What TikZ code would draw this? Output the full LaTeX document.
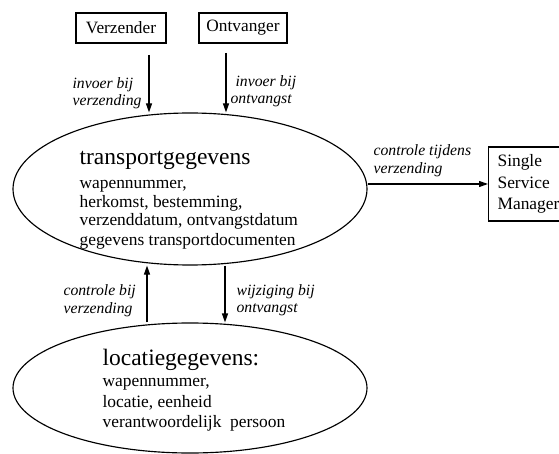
\documentclass[tikz,border=0pt]{standalone}
\usepackage{fontspec}
\setmainfont{Liberation Serif}
\usetikzlibrary{shapes.geometric,arrows.meta}
\begin{document}
\begin{tikzpicture}[x=1pt,y=-1pt,
  line width=1.15pt,
  actor/.style={draw,rectangle,minimum width=#1,minimum height=30pt,inner sep=0pt,
    font=\fontsize{17.3}{20}\selectfont},
  store/.style={draw,ellipse,inner sep=0pt},
  arr/.style={-{Triangle[length=9pt,width=6pt]}},
  txt/.style={anchor=base west,inner sep=0pt,font=\fontsize{17.4}{20}\selectfont},
  ttl/.style={anchor=base west,inner sep=0pt,font=\fontsize{23.5}{26}\selectfont},
  lbl/.style={anchor=base west,inner sep=0pt,font=\fontsize{15.7}{17}\selectfont\itshape}]
\useasboundingbox (0,0) rectangle (559,454);

% sources
\node[actor=90pt] (verz) at (121,28) {Verzender};
\node[actor=88pt] (ontv) at (243,28) {Ontvanger};

% data stores
\node[store,minimum width=354pt,minimum height=152pt] (tr) at (190,189) {};
\node[store,minimum width=354pt,minimum height=130pt] (loc) at (190,388) {};

% external system
\node[draw,rectangle,anchor=west,align=left,inner xsep=9pt,minimum height=74pt,
  font=\fontsize{17.4}{21.5}\selectfont] (ssm) at (488,184) {Single\\Service\\Manager};

% transport data contents
\node[ttl] (trT) at (79,165) {transportgegevens};
\node[txt] (tr1) at (79,189) {wapennummer,};
\node[txt] (tr2) at (79,208) {herkomst, bestemming,};
\node[txt] (tr3) at (79,226) {verzenddatum, ontvangstdatum};
\node[txt] (tr4) at (79,245) {gegevens transportdocumenten};

% location data contents
\node[ttl] (locT) at (102,365) {locatiegegevens:};
\node[txt] (loc1) at (102,386) {wapennummer,};
\node[txt] (loc2) at (102,407) {locatie, eenheid};
\node[txt] (loc3) at (102,427) {verantwoordelijk\ \ persoon};

% input flows
\coordinate (inV) at (149,55);
\coordinate (inO) at (226,53);
\draw[arr] (inV) -- (inV |- tr.north);
\draw[arr] (inO) -- (inO |- tr.north);
\node[lbl] (lV1) at (72,89) {invoer bij};
\node[lbl] (lV2) at (72,106) {verzending};
\node[lbl] (lO1) at (235,87) {invoer bij};
\node[lbl] (lO2) at (230,104) {ontvangst};

% check towards the Single Service Manager
\draw[arr] (tr.east |- ssm.west) -- (ssm.west);
\node[lbl] (lS1) at (373,156) {controle tijdens};
\node[lbl] (lS2) at (373,174) {verzending};

% flows between the two stores
\coordinate (up) at (147,0);
\coordinate (dn) at (225,0);
\draw[arr] (up |- loc.north) -- (up |- tr.south);
\draw[arr] (dn |- tr.south) -- (dn |- loc.north);
\node[lbl] (lC1) at (63,295) {controle bij};
\node[lbl] (lC2) at (63,313) {verzending};
\node[lbl] (lW1) at (236,295) {wijziging bij};
\node[lbl] (lW2) at (236,312) {ontvangst};
\end{tikzpicture}
\end{document}
